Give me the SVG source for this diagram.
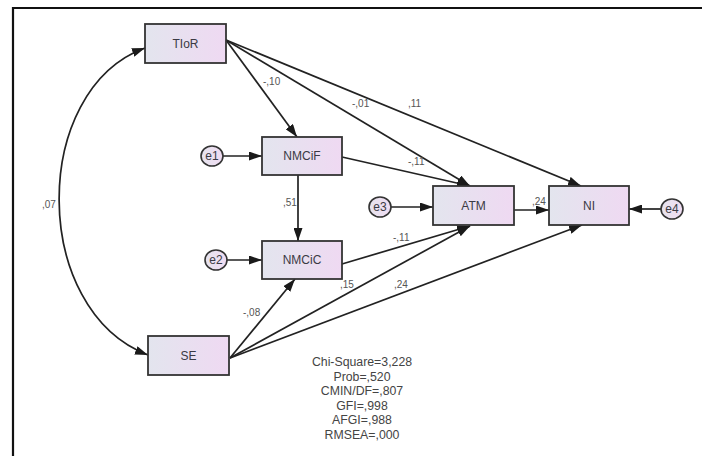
<svg xmlns="http://www.w3.org/2000/svg" width="702" height="456" viewBox="0 0 702 456">
  <defs>
    <linearGradient id="boxFill" x1="0" y1="0" x2="1" y2="0">
      <stop offset="0" stop-color="#e3e5ee"/>
      <stop offset="1" stop-color="#efd9f2"/>
    </linearGradient>
    <linearGradient id="errFill" x1="0" y1="0" x2="1" y2="0">
      <stop offset="0" stop-color="#e6e4ee"/>
      <stop offset="1" stop-color="#f0dcf2"/>
    </linearGradient>
    <marker id="arr" viewBox="0 0 13 9" refX="13" refY="4.5" markerWidth="13" markerHeight="9" orient="auto-start-reverse" markerUnits="userSpaceOnUse">
      <path d="M0,0 L13,4.5 L0,9 z" fill="#1a1a1a"/>
    </marker>
  </defs>
  <style>
    .box { fill: url(#boxFill); stroke: #333; stroke-width: 1.8; }
    .err { fill: url(#errFill); stroke: #333; stroke-width: 1.6; }
    .lbl { font-family: "Liberation Sans", Arial, sans-serif; font-size: 12px; fill: #3a3a44; text-anchor: middle; }
    .coef { font-family: "Liberation Sans", Arial, sans-serif; font-size: 10px; fill: #555; }
    .fit { font-family: "Liberation Sans", Arial, sans-serif; font-size: 12.3px; fill: #444; text-anchor: middle; }
    .path { fill: none; stroke: #222; stroke-width: 1.7; marker-end: url(#arr); }
  </style>

  <rect width="702" height="456" fill="#ffffff"/>
  <!-- frame -->
  <path d="M13,456 L13,8 L702,8" fill="none" stroke="#111" stroke-width="2.2"/>

  <!-- connectors -->
  <g id="connectors">
    <path class="path" d="M145,48 C30,90 30,310 148,355" marker-start="url(#arr)"/>
    <path class="path" d="M226,40 L297,137"/>
    <path class="path" d="M226,40 L470,186"/>
    <path class="path" d="M226,40 L581,186"/>
    <path class="path" d="M342,157 L470,186"/>
    <path class="path" d="M298,175 L298,241"/>
    <path class="path" d="M342,264 L470,226"/>
    <path class="path" d="M230,358 L295,279"/>
    <path class="path" d="M230,358 L470,226"/>
    <path class="path" d="M230,358 L582,225"/>
    <path class="path" d="M514,210 L549,210"/>
    <path class="path" d="M223,156 L262,156"/>
    <path class="path" d="M227,260 L262,260"/>
    <path class="path" d="M391,207 L433,207"/>
    <path class="path" d="M661,209 L629,209"/>
  </g>

  <!-- path coefficients -->
  <g id="coefficients">
    <text class="coef" x="263" y="85">-,10</text>
    <text class="coef" x="352" y="107">-,01</text>
    <text class="coef" x="408" y="107">,11</text>
    <text class="coef" x="408" y="165">-,11</text>
    <text class="coef" x="283" y="206">,51</text>
    <text class="coef" x="532" y="205">,24</text>
    <text class="coef" x="393" y="241">-,11</text>
    <text class="coef" x="340" y="288">,15</text>
    <text class="coef" x="394" y="288">,24</text>
    <text class="coef" x="42" y="208">,07</text>
    <text class="coef" x="243" y="316">-,08</text>
  </g>

  <!-- observed variables -->
  <g id="TIoR">
    <rect class="box" x="145" y="24" width="81" height="39"/>
    <text class="lbl" x="185.5" y="48">TIoR</text>
  </g>
  <g id="NMCiF">
    <rect class="box" x="262" y="137" width="80" height="38"/>
    <text class="lbl" x="302" y="160">NMCiF</text>
  </g>
  <g id="NMCiC">
    <rect class="box" x="262" y="241" width="80" height="38"/>
    <text class="lbl" x="302" y="264">NMCiC</text>
  </g>
  <g id="SE">
    <rect class="box" x="148" y="336" width="81" height="39"/>
    <text class="lbl" x="188.5" y="360">SE</text>
  </g>
  <g id="ATM">
    <rect class="box" x="433" y="186" width="81" height="39"/>
    <text class="lbl" x="473.5" y="210">ATM</text>
  </g>
  <g id="NI">
    <rect class="box" x="549" y="186" width="80" height="39"/>
    <text class="lbl" x="589" y="210">NI</text>
  </g>

  <!-- error terms -->
  <g id="e1">
    <ellipse class="err" cx="212" cy="156" rx="11" ry="10"/>
    <text class="lbl" x="212" y="160">e1</text>
  </g>
  <g id="e2">
    <ellipse class="err" cx="216" cy="260" rx="11" ry="10"/>
    <text class="lbl" x="216" y="264">e2</text>
  </g>
  <g id="e3">
    <ellipse class="err" cx="380" cy="207" rx="11" ry="10"/>
    <text class="lbl" x="380" y="211">e3</text>
  </g>
  <g id="e4">
    <ellipse class="err" cx="672" cy="209" rx="11" ry="10"/>
    <text class="lbl" x="672" y="213">e4</text>
  </g>

  <!-- model fit summary -->
  <g id="fit-indices">
    <text class="fit" x="362" y="366">Chi-Square=3,228</text>
    <text class="fit" x="362" y="380.5">Prob=,520</text>
    <text class="fit" x="362" y="395">CMIN/DF=,807</text>
    <text class="fit" x="362" y="409.5">GFI=,998</text>
    <text class="fit" x="362" y="424">AFGI=,988</text>
    <text class="fit" x="362" y="438.5">RMSEA=,000</text>
  </g>
</svg>
